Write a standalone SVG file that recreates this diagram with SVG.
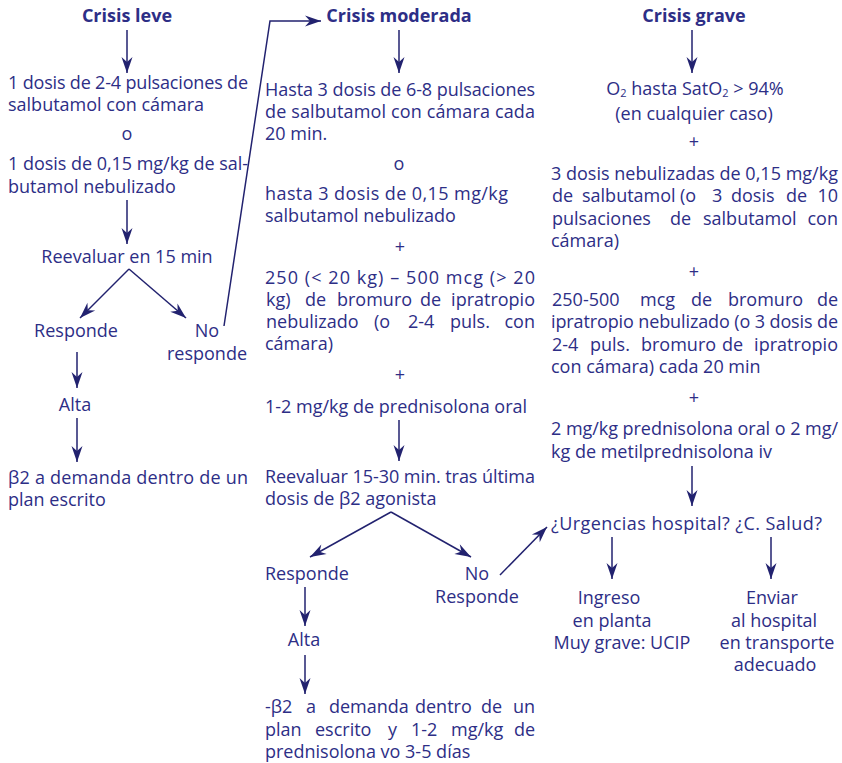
<svg xmlns="http://www.w3.org/2000/svg" width="842" height="763" viewBox="0 0 842 763">
<style>
text{font-family:"Open Sans","Liberation Sans",Arial,sans-serif;font-size:18px;fill:#2d2e86}
.t{font-weight:bold;font-size:18px}
.c{text-anchor:middle}
.e{text-anchor:end}
.sub{font-size:11px}
.ln{stroke:#22226f;stroke-width:1.5;fill:none}
</style>
<defs>
<marker id="ah" viewBox="-17 -6 18 12" refX="0" refY="0" markerWidth="18" markerHeight="12" markerUnits="userSpaceOnUse" orient="auto">
<path d="M0,0 L-16,-5.5 L-11,0 L-16,5.5 Z" fill="#22226f"/>
</marker>
</defs>
<rect width="842" height="763" fill="#fff"/>
<g id="connectors">
<path class="ln" marker-end="url(#ah)" d="M127,30 V73"/>
<path class="ln" marker-end="url(#ah)" d="M399,30 V73"/>
<path class="ln" marker-end="url(#ah)" d="M692,30 V73"/>
<path class="ln" marker-end="url(#ah)" d="M127,200 V244"/>
<path class="ln" marker-end="url(#ah)" d="M129,269 L80,318"/>
<path class="ln" marker-end="url(#ah)" d="M129,269 L186,318"/>
<path class="ln" marker-end="url(#ah)" d="M77,352 V388"/>
<path class="ln" marker-end="url(#ah)" d="M77,418 V462"/>
<path class="ln" marker-end="url(#ah)" d="M224,326 L270,21 H321"/>
<path class="ln" marker-end="url(#ah)" d="M399,420 V461"/>
<path class="ln" marker-end="url(#ah)" d="M391,512 L310,557"/>
<path class="ln" marker-end="url(#ah)" d="M391,512 L471,557"/>
<path class="ln" marker-end="url(#ah)" d="M500,575 L547,527"/>
<path class="ln" marker-end="url(#ah)" d="M305,587 V626"/>
<path class="ln" marker-end="url(#ah)" d="M305,655 V694"/>
<path class="ln" marker-end="url(#ah)" d="M692,466 V506"/>
<path class="ln" marker-end="url(#ah)" d="M612,537 V579"/>
<path class="ln" marker-end="url(#ah)" d="M771,537 V579"/>
</g>
<g id="titulo-leve"><text class="t c" x="127" y="22">Crisis leve</text></g>
<g id="titulo-moderada"><text class="t c" x="399" y="22">Crisis moderada</text></g>
<g id="titulo-grave"><text class="t c" x="694" y="22">Crisis grave</text></g>
<g id="leve-tratamiento">
<text x="8" y="89" textLength="240" lengthAdjust="spacing">1 dosis de 2-4 pulsaciones de</text>
<text x="8" y="111">salbutamol con cámara</text>
<text class="c" x="127" y="140">o</text>
<text x="8" y="170" textLength="240" lengthAdjust="spacing">1 dosis de 0,15 mg/kg de sal-</text>
<text x="8" y="193">butamol nebulizado</text>
</g>
<g id="leve-reevaluar"><text class="c" x="127" y="263">Reevaluar en 15 min</text></g>
<g id="leve-responde"><text class="c" x="76" y="337">Responde</text></g>
<g id="leve-noresponde"><text class="c" x="207" y="337">No</text><text class="c" x="207" y="360">responde</text></g>
<g id="leve-alta"><text class="c" x="75" y="411">Alta</text></g>
<g id="leve-plan">
<text x="8" y="484" textLength="240" lengthAdjust="spacing">β2 a demanda dentro de un</text>
<text x="8" y="506">plan escrito</text>
</g>
<g id="moderada-tratamiento">
<text x="265" y="96" textLength="270" lengthAdjust="spacing">Hasta 3 dosis de 6-8 pulsaciones</text>
<text x="265" y="118" textLength="270" lengthAdjust="spacing">de salbutamol con cámara cada</text>
<text x="265" y="140">20 min.</text>
<text class="c" x="399" y="170">o</text>
<text x="265" y="200" textLength="243" lengthAdjust="spacing">hasta 3 dosis de 0,15 mg/kg</text>
<text x="265" y="222">salbutamol nebulizado</text>
<text class="c" x="400" y="253">+</text>
<text x="265" y="284" textLength="270" lengthAdjust="spacing">250 (&lt; 20 kg) – 500 mcg (&gt; 20</text>
<text y="306"><tspan x="266">kg)</tspan><tspan x="305">de</tspan><tspan x="337">bromuro</tspan><tspan x="420">de</tspan><tspan class="e" x="535">ipratropio</tspan></text>
<text y="328"><tspan x="266">nebulizado</tspan><tspan x="374">(o</tspan><tspan x="408">2-4</tspan><tspan x="450">puls.</tspan><tspan class="e" x="535">con</tspan></text>
<text x="265" y="350">cámara)</text>
<text class="c" x="400" y="381">+</text>
<text x="265" y="413">1-2 mg/kg de prednisolona oral</text>
</g>
<g id="moderada-reevaluar">
<text x="265" y="483" textLength="270" lengthAdjust="spacing">Reevaluar 15-30 min. tras última</text>
<text x="265" y="505">dosis de β2 agonista</text>
</g>
<g id="moderada-responde"><text x="265" y="580">Responde</text></g>
<g id="moderada-noresponde"><text class="c" x="477" y="580">No</text><text class="c" x="477" y="603">Responde</text></g>
<g id="moderada-alta"><text class="c" x="304" y="646">Alta</text></g>
<g id="moderada-plan">
<text y="713"><tspan x="265">-β2</tspan><tspan x="306">a</tspan><tspan x="329">demanda</tspan><tspan x="415">dentro</tspan><tspan x="481">de</tspan><tspan class="e" x="535">un</tspan></text>
<text y="736"><tspan x="265">plan</tspan><tspan x="315">escrito</tspan><tspan x="388">y</tspan><tspan x="411">1-2</tspan><tspan x="451">mg/kg</tspan><tspan class="e" x="535">de</tspan></text>
<text x="265" y="758">prednisolona vo 3-5 días</text>
</g>
<g id="grave-tratamiento">
<text class="c" x="695" y="95">O<tspan class="sub" dy="2">2</tspan><tspan dy="-2"> hasta SatO</tspan><tspan class="sub" dy="2">2</tspan><tspan dy="-2"> &gt; 94%</tspan></text>
<text class="c" x="694" y="119.5">(en cualquier caso)</text>
<text class="c" x="694" y="148">+</text>
<text x="551" y="180" textLength="287" lengthAdjust="spacing">3 dosis nebulizadas de 0,15 mg/kg</text>
<text y="202"><tspan x="552">de</tspan><tspan x="582">salbutamol</tspan><tspan x="680">(o</tspan><tspan x="712">3</tspan><tspan x="731">dosis</tspan><tspan x="786">de</tspan><tspan class="e" x="838">10</tspan></text>
<text y="225"><tspan x="552">pulsaciones</tspan><tspan x="670">de</tspan><tspan x="703">salbutamol</tspan><tspan class="e" x="838">con</tspan></text>
<text x="551" y="247">cámara)</text>
<text class="c" x="694" y="278">+</text>
<text y="306"><tspan x="552">250-500</tspan><tspan x="640">mcg</tspan><tspan x="691">de</tspan><tspan x="728">bromuro</tspan><tspan class="e" x="838">de</tspan></text>
<text x="551" y="328" textLength="287" lengthAdjust="spacing">ipratropio nebulizado (o 3 dosis de</text>
<text y="351"><tspan x="552">2-4</tspan><tspan x="590">puls.</tspan><tspan x="641">bromuro</tspan><tspan x="722">de</tspan><tspan class="e" x="838">ipratropio</tspan></text>
<text x="551" y="373">con cámara) cada 20 min</text>
<text class="c" x="694" y="404">+</text>
<text x="551" y="435" textLength="287" lengthAdjust="spacing">2 mg/kg prednisolona oral o 2 mg/</text>
<text x="551" y="458">kg de metilprednisolona iv</text>
</g>
<g id="grave-decision"><text x="551" y="530" textLength="271" lengthAdjust="spacing">¿Urgencias hospital? ¿C. Salud?</text></g>
<g id="grave-ingreso">
<text class="c" x="609" y="604">Ingreso</text>
<text class="c" x="612" y="627">en planta</text>
<text class="c" x="622" y="649">Muy grave: UCIP</text>
</g>
<g id="grave-enviar">
<text class="c" x="772" y="604">Enviar</text>
<text class="c" x="774" y="627">al hospital</text>
<text class="c" x="777" y="649">en transporte</text>
<text class="c" x="775" y="671">adecuado</text>
</g>
</svg>
